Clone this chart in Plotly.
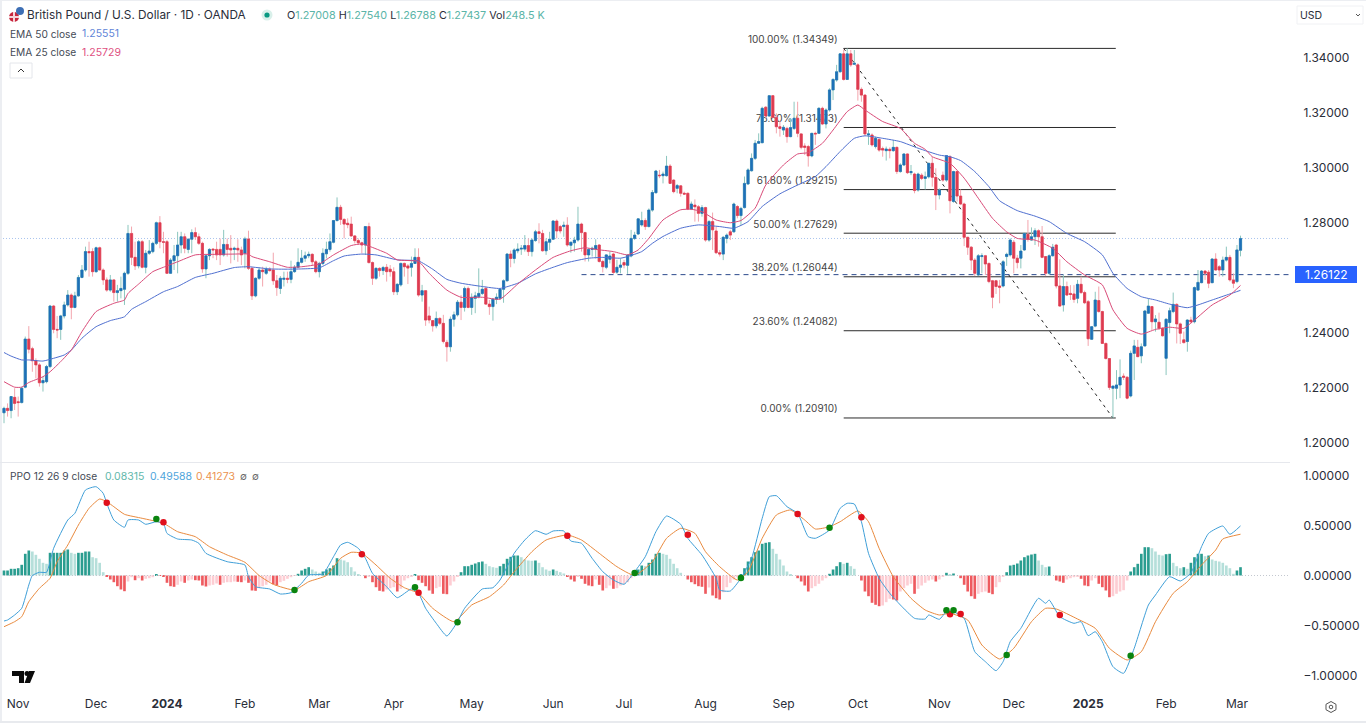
# GBP/USD daily chart with EMAs, fibonacci levels and a PPO pane
import plotly.graph_objects as go

# candles
opens=[1.2110,1.2126,1.2118,1.2166,1.2150,1.2147,1.2203,1.2378,1.2343,1.2299,
1.2284,1.2219,1.2223,1.2278,1.2498,1.2413,1.2413,1.2462,1.2502,1.2538,
1.2493,1.2535,1.2602,1.2629,1.2696,1.2696,1.2623,1.2710,1.2629,1.2593,
1.2556,1.2593,1.2547,1.2554,1.2559,1.2617,1.2762,1.2675,1.2644,1.2732,
1.2639,1.2690,1.2696,1.2726,1.2801,1.2732,1.2732,1.2617,1.2663,1.2681,
1.2720,1.2750,1.2704,1.2741,1.2765,1.2750,1.2726,1.2633,1.2681,1.2705,
1.2704,1.2704,1.2684,1.2722,1.2708,1.2704,1.2708,1.2702,1.2690,1.2742,
1.2635,1.2535,1.2599,1.2629,1.2617,1.2632,1.2629,1.2590,1.2562,1.2595,
1.2599,1.2595,1.2623,1.2639,1.2657,1.2672,1.2681,1.2686,1.2659,1.2623,
1.2653,1.2688,1.2704,1.2730,1.2809,1.2857,1.2813,1.2799,1.2796,1.2753,
1.2736,1.2728,1.2720,1.2787,1.2656,1.2599,1.2635,1.2627,1.2639,1.2632,
1.2623,1.2550,1.2575,1.2653,1.2644,1.2639,1.2653,1.2675,1.2538,1.2554,
1.2462,1.2445,1.2426,1.2453,1.2435,1.2366,1.2350,1.2450,1.2466,1.2512,
1.2493,1.2562,1.2493,1.2526,1.2532,1.2544,1.2562,1.2505,1.2496,1.2523,
1.2526,1.2559,1.2590,1.2687,1.2671,1.2699,1.2705,1.2705,1.2718,1.2696,
1.2736,1.2768,1.2762,1.2699,1.2730,1.2741,1.2807,1.2787,1.2787,1.2792,
1.2719,1.2728,1.2738,1.2796,1.2765,1.2684,1.2704,1.2705,1.2720,1.2660,
1.2639,1.2668,1.2687,1.2621,1.2639,1.2656,1.2646,1.2680,1.2744,1.2760,
1.2793,1.2809,1.2787,1.2847,1.2910,1.2974,1.2972,1.2972,1.3007,1.2956,
1.2926,1.2935,1.2908,1.2908,1.2851,1.2865,1.2859,1.2835,1.2856,1.2738,
1.2805,1.2771,1.2692,1.2687,1.2744,1.2768,1.2768,1.2860,1.2827,1.2856,
1.2942,1.2990,1.3035,1.3090,1.3092,1.3221,1.3189,1.3263,1.3184,1.3150,
1.3138,1.3144,1.3114,1.3144,1.3181,1.3124,1.3080,1.3078,1.3044,1.3126,
1.3126,1.3217,1.3160,1.3211,1.3284,1.3320,1.3350,1.3415,1.3322,1.3415,
1.3377,1.3375,1.3286,1.3265,1.3120,1.3120,1.3078,1.3104,1.3071,1.3063,
1.3068,1.3063,1.3075,1.2987,1.3011,1.3051,1.2983,1.2978,1.2920,1.2974,
1.2962,1.2968,1.3017,1.2966,1.2902,1.2974,1.2956,1.3041,1.2878,1.2987,
1.2898,1.2869,1.2748,1.2712,1.2665,1.2611,1.2678,1.2681,1.2653,1.2590,
1.2590,1.2571,1.2571,1.2678,1.2684,1.2730,1.2672,1.2672,1.2702,1.2759,
1.2738,1.2750,1.2772,1.2750,1.2678,1.2617,1.2681,1.2720,1.2571,1.2502,
1.2569,1.2544,1.2542,1.2526,1.2577,1.2547,1.2514,1.2377,1.2425,1.2518,
1.2478,1.2362,1.2307,1.2199,1.2199,1.2211,1.2243,1.2239,1.2171,1.2326,
1.2348,1.2317,1.2353,1.2472,1.2496,1.2441,1.2439,1.2417,1.2308,1.2438,
1.2478,1.2504,1.2433,1.2375,1.2369,1.2447,1.2441,1.2556,1.2583,1.2625,
1.2621,1.2583,1.2669,1.2641,1.2629,1.2665,1.2675,1.2593,1.2587,1.27008]
highs=[1.2132,1.2144,1.2169,1.2199,1.2169,1.2205,1.2387,1.2425,1.2350,1.2308,
1.2290,1.2241,1.2284,1.2502,1.2502,1.2462,1.2466,1.2514,1.2556,1.2544,
1.2550,1.2611,1.2647,1.2714,1.2732,1.2708,1.2714,1.2714,1.2635,1.2602,
1.2611,1.2595,1.2575,1.2605,1.2623,1.2793,1.2787,1.2732,1.2738,1.2738,
1.2702,1.2738,1.2732,1.2805,1.2825,1.2768,1.2738,1.2672,1.2720,1.2768,
1.2768,1.2762,1.2744,1.2777,1.2784,1.2762,1.2732,1.2684,1.2708,1.2708,
1.2732,1.2744,1.2775,1.2744,1.2756,1.2714,1.2741,1.2714,1.2750,1.2772,
1.2641,1.2602,1.2639,1.2641,1.2641,1.2639,1.2692,1.2611,1.2607,1.2623,
1.2623,1.2663,1.2647,1.2708,1.2702,1.2696,1.2696,1.2690,1.2665,1.2659,
1.2708,1.2732,1.2762,1.2811,1.2893,1.2866,1.2817,1.2817,1.2823,1.2756,
1.2744,1.2732,1.2787,1.2801,1.2660,1.2639,1.2639,1.2644,1.2651,1.2647,
1.2639,1.2581,1.2656,1.2656,1.2651,1.2678,1.2708,1.2708,1.2575,1.2556,
1.2496,1.2447,1.2478,1.2457,1.2466,1.2375,1.2460,1.2478,1.2520,1.2538,
1.2569,1.2569,1.2544,1.2550,1.2635,1.2593,1.2569,1.2520,1.2526,1.2544,
1.2562,1.2595,1.2690,1.2700,1.2708,1.2726,1.2720,1.2756,1.2744,1.2744,
1.2775,1.2799,1.2775,1.2744,1.2768,1.2811,1.2813,1.2793,1.2805,1.2821,
1.2732,1.2750,1.2859,1.2801,1.2768,1.2708,1.2714,1.2741,1.2723,1.2666,
1.2687,1.2696,1.2692,1.2666,1.2671,1.2666,1.2687,1.2775,1.2768,1.2817,
1.2841,1.2817,1.2853,1.2920,1.2993,1.2993,1.2987,1.3044,1.3014,1.2959,
1.2942,1.2938,1.2914,1.2911,1.2878,1.2886,1.2865,1.2865,1.2859,1.2811,
1.2838,1.2787,1.2702,1.2753,1.2762,1.2775,1.2874,1.2865,1.2859,1.2969,
1.2999,1.3053,1.3102,1.3126,1.3223,1.3225,1.3265,1.3265,1.3199,1.3172,
1.3156,1.3150,1.3181,1.3241,1.3241,1.3126,1.3090,1.3084,1.3128,1.3132,
1.3221,1.3223,1.3217,1.3290,1.3326,1.3375,1.3417,1.3431,1.3435,1.3429,
1.3429,1.3381,1.3293,1.3268,1.3138,1.3126,1.3114,1.3108,1.3078,1.3078,
1.3075,1.3102,1.3078,1.3017,1.3053,1.3053,1.3011,1.2983,1.2983,1.2981,
1.2987,1.3019,1.3041,1.2999,1.2926,1.2987,1.3047,1.3047,1.2990,1.2990,
1.2922,1.2874,1.2750,1.2716,1.2672,1.2687,1.2690,1.2684,1.2656,1.2593,
1.2593,1.2593,1.2665,1.2692,1.2744,1.2738,1.2684,1.2720,1.2765,1.2811,
1.2784,1.2781,1.2777,1.2789,1.2680,1.2686,1.2724,1.2724,1.2668,1.2611,
1.2587,1.2574,1.2574,1.2593,1.2605,1.2554,1.2520,1.2425,1.2550,1.2569,
1.2481,1.2365,1.2309,1.2207,1.2265,1.2304,1.2253,1.2243,1.2336,1.2375,
1.2375,1.2362,1.2484,1.2525,1.2498,1.2465,1.2474,1.2421,1.2453,1.2492,
1.2547,1.2508,1.2438,1.2405,1.2450,1.2459,1.2569,1.2629,1.2629,1.2629,
1.2629,1.2672,1.2690,1.2647,1.2678,1.2714,1.2684,1.2617,1.2720,1.27540]
lows=[1.2072,1.2096,1.2090,1.2120,1.2096,1.2144,1.2199,1.2326,1.2259,1.2235,
1.2205,1.2187,1.2217,1.2272,1.2399,1.2381,1.2375,1.2453,1.2496,1.2450,
1.2490,1.2532,1.2599,1.2623,1.2605,1.2605,1.2619,1.2629,1.2575,1.2550,
1.2550,1.2514,1.2514,1.2526,1.2502,1.2611,1.2647,1.2629,1.2635,1.2635,
1.2617,1.2684,1.2690,1.2720,1.2708,1.2690,1.2615,1.2615,1.2629,1.2617,
1.2690,1.2690,1.2690,1.2690,1.2738,1.2720,1.2619,1.2599,1.2665,1.2672,
1.2665,1.2647,1.2678,1.2678,1.2653,1.2665,1.2659,1.2647,1.2635,1.2629,
1.2520,1.2530,1.2593,1.2569,1.2611,1.2623,1.2575,1.2535,1.2542,1.2569,
1.2581,1.2581,1.2619,1.2635,1.2653,1.2659,1.2672,1.2647,1.2617,1.2602,
1.2647,1.2671,1.2696,1.2726,1.2805,1.2793,1.2744,1.2781,1.2750,1.2726,
1.2720,1.2690,1.2684,1.2653,1.2575,1.2593,1.2605,1.2611,1.2587,1.2605,
1.2538,1.2538,1.2569,1.2605,1.2578,1.2605,1.2653,1.2532,1.2514,1.2426,
1.2435,1.2405,1.2417,1.2429,1.2362,1.2296,1.2332,1.2423,1.2460,1.2447,
1.2478,1.2490,1.2466,1.2472,1.2526,1.2538,1.2502,1.2466,1.2445,1.2505,
1.2520,1.2510,1.2587,1.2639,1.2653,1.2690,1.2684,1.2696,1.2680,1.2678,
1.2732,1.2726,1.2696,1.2684,1.2702,1.2738,1.2744,1.2762,1.2750,1.2714,
1.2692,1.2696,1.2732,1.2696,1.2660,1.2660,1.2678,1.2671,1.2656,1.2620,
1.2632,1.2653,1.2615,1.2615,1.2617,1.2635,1.2615,1.2675,1.2738,1.2756,
1.2787,1.2775,1.2784,1.2841,1.2908,1.2963,1.2944,1.2969,1.2942,1.2908,
1.2908,1.2896,1.2902,1.2847,1.2847,1.2805,1.2805,1.2823,1.2732,1.2732,
1.2702,1.2687,1.2678,1.2665,1.2726,1.2738,1.2765,1.2817,1.2793,1.2853,
1.2938,1.2987,1.3029,1.3090,1.3090,1.3181,1.3187,1.3181,1.3126,1.3114,
1.3120,1.3092,1.3112,1.3138,1.3112,1.3068,1.3047,1.3005,1.3039,1.3084,
1.3124,1.3156,1.3144,1.3205,1.3247,1.3314,1.3347,1.3318,1.3320,1.3368,
1.3375,1.3245,1.3241,1.3116,1.3084,1.3078,1.3071,1.3059,1.3041,1.3027,
1.3035,1.3059,1.2978,1.2983,1.3007,1.2978,1.2974,1.2908,1.2914,1.2956,
1.2922,1.2962,1.2932,1.2847,1.2886,1.2950,1.2950,1.2835,1.2874,1.2878,
1.2865,1.2716,1.2684,1.2629,1.2607,1.2607,1.2617,1.2611,1.2581,1.2490,
1.2542,1.2508,1.2566,1.2644,1.2678,1.2617,1.2635,1.2635,1.2699,1.2732,
1.2736,1.2720,1.2714,1.2672,1.2607,1.2612,1.2678,1.2562,1.2496,1.2478,
1.2535,1.2520,1.2510,1.2508,1.2542,1.2505,1.2353,1.2375,1.2421,1.2474,
1.2360,1.2304,1.2193,1.2091,1.2159,1.2163,1.2229,1.2159,1.2166,1.2229,
1.2312,1.2290,1.2351,1.2469,1.2411,1.2405,1.2411,1.2387,1.2247,1.2399,
1.2472,1.2362,1.2360,1.2362,1.2332,1.2435,1.2435,1.2554,1.2581,1.2593,
1.2563,1.2581,1.2627,1.2605,1.2605,1.2660,1.2587,1.2563,1.2581,1.26788]
closes=[1.2126,1.2118,1.2169,1.2144,1.2147,1.2199,1.2378,1.2341,1.2299,1.2284,
1.2219,1.2227,1.2278,1.2498,1.2413,1.2411,1.2462,1.2502,1.2538,1.2493,
1.2535,1.2602,1.2629,1.2696,1.2692,1.2623,1.2710,1.2629,1.2593,1.2556,
1.2593,1.2547,1.2554,1.2562,1.2617,1.2762,1.2675,1.2644,1.2732,1.2639,
1.2690,1.2698,1.2726,1.2801,1.2732,1.2730,1.2617,1.2665,1.2681,1.2720,
1.2750,1.2708,1.2741,1.2765,1.2750,1.2726,1.2633,1.2681,1.2704,1.2702,
1.2684,1.2684,1.2722,1.2704,1.2702,1.2708,1.2702,1.2684,1.2742,1.2635,
1.2535,1.2599,1.2629,1.2623,1.2632,1.2627,1.2590,1.2565,1.2599,1.2599,
1.2595,1.2623,1.2639,1.2657,1.2672,1.2681,1.2686,1.2659,1.2623,1.2653,
1.2690,1.2704,1.2732,1.2809,1.2857,1.2813,1.2796,1.2794,1.2753,1.2736,
1.2728,1.2720,1.2787,1.2656,1.2599,1.2635,1.2627,1.2638,1.2623,1.2623,
1.2550,1.2577,1.2653,1.2641,1.2636,1.2653,1.2675,1.2538,1.2554,1.2447,
1.2447,1.2426,1.2453,1.2435,1.2369,1.2350,1.2450,1.2466,1.2512,1.2493,
1.2562,1.2493,1.2530,1.2535,1.2544,1.2559,1.2505,1.2496,1.2523,1.2530,
1.2559,1.2590,1.2687,1.2671,1.2702,1.2705,1.2708,1.2718,1.2696,1.2738,
1.2768,1.2762,1.2699,1.2732,1.2741,1.2807,1.2771,1.2771,1.2792,1.2720,
1.2730,1.2738,1.2796,1.2765,1.2684,1.2704,1.2708,1.2718,1.2660,1.2641,
1.2684,1.2680,1.2620,1.2639,1.2647,1.2647,1.2683,1.2744,1.2756,1.2815,
1.2809,1.2787,1.2847,1.2911,1.2989,1.2972,1.2978,1.3007,1.2944,1.2914,
1.2936,1.2908,1.2905,1.2851,1.2869,1.2859,1.2835,1.2856,1.2738,1.2805,
1.2775,1.2692,1.2687,1.2748,1.2756,1.2756,1.2869,1.2827,1.2853,1.2944,
1.2993,1.3035,1.3090,1.3096,1.3217,1.3189,1.3263,1.3184,1.3150,1.3144,
1.3148,1.3114,1.3147,1.3181,1.3126,1.3075,1.3075,1.3044,1.3126,1.3124,
1.3217,1.3160,1.3211,1.3284,1.3322,1.3350,1.3415,1.3322,1.3415,1.3375,
1.3381,1.3286,1.3265,1.3124,1.3124,1.3084,1.3108,1.3065,1.3065,1.3069,
1.3063,1.3075,1.2987,1.3011,1.3051,1.2983,1.2987,1.2918,1.2978,1.2962,
1.2968,1.3017,1.2966,1.2902,1.2920,1.2956,1.3045,1.2881,1.2987,1.2898,
1.2869,1.2748,1.2712,1.2665,1.2617,1.2681,1.2681,1.2651,1.2587,1.2530,
1.2569,1.2566,1.2659,1.2686,1.2738,1.2672,1.2656,1.2698,1.2762,1.2741,
1.2750,1.2772,1.2750,1.2675,1.2617,1.2681,1.2712,1.2571,1.2498,1.2569,
1.2538,1.2540,1.2522,1.2577,1.2547,1.2510,1.2379,1.2423,1.2520,1.2478,
1.2362,1.2307,1.2202,1.2207,1.2211,1.2239,1.2239,1.2163,1.2326,1.2353,
1.2314,1.2350,1.2480,1.2498,1.2441,1.2451,1.2417,1.2390,1.2450,1.2481,
1.2504,1.2433,1.2399,1.2365,1.2447,1.2441,1.2565,1.2584,1.2625,1.2617,
1.2581,1.2669,1.2629,1.2629,1.2665,1.2675,1.2593,1.2581,1.2702,1.27437]

# EMAs, read at the turning points of the lines
ema50_x=[0,2,5,7,11,14,17,19,22,26,30,34,36,40,45,49,54,59,65,69,75,80,84,89,93,96,101,105,111,117,121,125,129,135,140,145,150,155,159,165,169,174,176,180,183,186,191,196,202,206,210,214,219,223,229,232,236,240,243,248,253,258,264,267,270,274,278,281,286,291,295,300,305,310,313,317,321,325,329,334,337,341,346,349]
ema50=[1.2329,1.2316,1.2302,1.2302,1.2298,1.2308,1.2320,1.2338,1.2381,1.2423,1.2445,1.2459,1.2486,1.2514,1.2550,1.2569,1.2602,1.2617,1.2638,1.2641,1.2633,1.2632,1.2633,1.2637,1.2663,1.2680,1.2687,1.2684,1.2666,1.2662,1.2632,1.2595,1.2581,1.2569,1.2562,1.2581,1.2615,1.2639,1.2656,1.2672,1.2675,1.2672,1.2678,1.2696,1.2726,1.2751,1.2781,1.2793,1.2787,1.2781,1.2805,1.2860,1.2906,1.2932,1.2969,1.3005,1.3060,1.3108,1.3117,1.3108,1.3096,1.3072,1.3047,1.3041,1.3027,1.2987,1.2932,1.2881,1.2845,1.2825,1.2805,1.2762,1.2732,1.2684,1.2617,1.2562,1.2532,1.2520,1.2505,1.2492,1.2502,1.2520,1.2542,1.25551]
ema25_x=[0,3,5,7,11,13,16,19,22,26,31,34,35,38,42,45,49,54,60,65,69,70,75,80,84,89,93,98,101,103,108,111,117,120,125,129,135,140,145,150,155,160,164,167,172,176,179,182,186,191,194,197,201,205,208,212,215,220,224,227,231,234,238,241,243,248,253,257,260,262,267,271,275,279,283,286,291,296,300,305,310,313,317,321,325,329,333,336,341,346,349]
ema25=[1.2223,1.2203,1.2203,1.2220,1.2241,1.2259,1.2296,1.2338,1.2405,1.2478,1.2508,1.2520,1.2544,1.2578,1.2623,1.2639,1.2659,1.2684,1.2686,1.2687,1.2687,1.2678,1.2659,1.2639,1.2641,1.2651,1.2684,1.2718,1.2724,1.2716,1.2690,1.2666,1.2660,1.2617,1.2556,1.2530,1.2530,1.2523,1.2578,1.2629,1.2675,1.2699,1.2710,1.2704,1.2696,1.2684,1.2702,1.2744,1.2811,1.2848,1.2850,1.2841,1.2811,1.2801,1.2809,1.2854,1.2938,1.3011,1.3051,1.3056,1.3090,1.3138,1.3205,1.3229,1.3211,1.3169,1.3144,1.3090,1.3068,1.3041,1.3017,1.2963,1.2890,1.2817,1.2768,1.2744,1.2738,1.2708,1.2659,1.2611,1.2575,1.2484,1.2417,1.2396,1.2413,1.2421,1.2417,1.2447,1.2502,1.2538,1.25729]

# fibonacci retracement
fib_values=[1.34349,1.31473,1.29215,1.27629,1.26044,1.24082,1.20910]
fib_labels=["100.00% (1.34349)","78.60% (1.31473)","61.80% (1.29215)","50.00% (1.27629)","38.20% (1.26044)","23.60% (1.24082)","0.00% (1.20910)"]
fib_start=237
fib_end=313.8
low_x=313
last_price=1.27437
level_price=1.26122
level_start=163

# PPO pane
ppo_x=[0,1,3,5,7,8,10,12,14,18,20,23,26,28,29,31,34,35,38,40,43,45,46,49,53,55,57,63,68,69,71,75,78,81,84,86,90,93,95,97,100,102,104,108,111,115,117,119,122,125,128,130,135,138,140,144,147,150,153,155,158,160,163,166,169,172,175,178,181,184,187,191,193,197,201,202,205,208,211,214,216,218,221,224,227,229,233,236,238,240,242,244,247,250,253,257,260,261,264,266,268,271,274,277,280,282,284,287,292,294,295,298,302,304,306,308,310,313,316,319,323,325,329,332,335,338,340,344,346,349]
ppo=[-0.455,-0.445,-0.395,-0.328,-0.095,0.0,0.032,0.032,0.272,0.555,0.622,0.855,0.888,0.822,0.722,0.555,0.482,0.555,0.555,0.512,0.538,0.522,0.422,0.365,0.355,0.322,0.222,0.138,0.105,-0.012,-0.112,-0.135,-0.185,-0.172,-0.078,0.005,0.015,0.188,0.305,0.332,0.272,0.172,0.022,-0.112,-0.222,-0.135,-0.178,-0.328,-0.478,-0.605,-0.462,-0.328,-0.135,-0.122,-0.045,0.222,0.355,0.448,0.412,0.445,0.445,0.345,0.322,0.172,0.038,-0.045,-0.088,0.038,0.188,0.438,0.595,0.512,0.372,0.205,-0.028,-0.145,-0.155,-0.028,0.172,0.572,0.788,0.798,0.688,0.622,0.388,0.372,0.455,0.672,0.722,0.715,0.538,0.222,-0.028,-0.178,-0.295,-0.428,-0.435,-0.395,-0.438,-0.362,-0.362,-0.428,-0.762,-0.862,-0.952,-0.862,-0.662,-0.528,-0.228,-0.278,-0.245,-0.412,-0.478,-0.462,-0.602,-0.562,-0.662,-0.912,-0.978,-0.728,-0.295,-0.195,-0.012,-0.055,0.025,0.288,0.422,0.495,0.412,0.49588]
signal_x=[0,3,5,7,10,13,15,18,21,24,27,29,31,34,39,45,49,54,58,63,68,72,76,82,86,91,95,98,101,105,109,113,117,121,127,132,137,141,144,149,153,159,163,168,173,178,183,187,191,195,198,202,207,210,214,218,222,226,229,233,236,241,244,247,251,256,260,264,267,272,276,281,285,290,294,297,303,308,312,317,321,325,330,334,338,342,344,349]
signal=[-0.512,-0.462,-0.412,-0.262,-0.128,-0.028,0.138,0.305,0.505,0.672,0.765,0.738,0.688,0.612,0.572,0.522,0.438,0.388,0.288,0.205,0.132,0.0,-0.088,-0.145,-0.062,0.0,0.172,0.232,0.222,0.105,-0.028,-0.122,-0.178,-0.328,-0.462,-0.295,-0.212,-0.095,0.038,0.238,0.355,0.405,0.355,0.222,0.088,0.0,0.138,0.372,0.472,0.422,0.238,0.088,-0.045,0.038,0.372,0.605,0.655,0.555,0.465,0.488,0.538,0.645,0.538,0.272,-0.012,-0.228,-0.345,-0.395,-0.378,-0.445,-0.695,-0.835,-0.728,-0.462,-0.328,-0.335,-0.435,-0.528,-0.728,-0.845,-0.762,-0.462,-0.178,-0.062,0.105,0.255,0.365,0.41273]
hist=[.05,.05,.067,.067,.073,.107,.217,.25,.24,.207,
.167,.127,.117,.227,.227,.227,.227,.25,.26,.227,
.217,.227,.227,.24,.24,.183,.173,.127,.033,-.01,
-.04,-.067,-.107,-.14,-.157,-.06,-.017,-.047,-.027,-.05,
-.033,-.027,-.017,.01,-.003,-.01,-.073,-.107,-.113,-.093,
-.06,-.073,-.05,-.04,-.047,-.05,-.1,-.11,-.1,-.093,
-.08,-.093,-.073,-.067,-.067,-.06,-.063,-.067,-.05,-.073,
-.15,-.153,-.127,-.107,-.093,-.06,-.087,-.1,-.067,-.053,
-.033,-.017,-.003,.017,.05,.067,.083,.06,.04,.027,
.04,.06,.073,.1,.173,.16,.15,.133,.083,.04,
.01,0,-.027,-.01,-.067,-.117,-.153,-.16,-.14,-.127,
-.117,-.16,-.133,-.05,-.027,-.007,.01,-.047,-.073,-.107,
-.15,-.183,-.127,-.113,-.183,-.187,-.1,-.06,-.007,.033,
.093,.093,.107,.12,.133,.14,.117,.093,.083,.077,
.093,.117,.167,.187,.2,.2,.183,.16,.15,.147,
.15,.127,.083,.06,.047,.06,.047,.033,.02,-.007,
-.04,-.06,-.01,-.033,-.083,-.1,-.107,-.04,-.093,-.15,
-.127,-.1,-.133,-.127,-.1,-.083,-.067,-.027,.017,.06,
.1,.093,.127,.16,.217,.227,.217,.207,.167,.117,
.073,.027,0,-.04,-.067,-.087,-.107,-.113,-.183,-.12,
-.2,-.227,-.24,-.167,-.117,-.073,-.04,-.017,.007,.073,
.14,.183,.233,.25,.317,.327,.333,.267,.217,.16,
.1,.04,.01,0,-.027,-.06,-.1,-.16,-.127,-.107,
-.083,-.05,-.027,.017,.06,.093,.133,.117,.127,.093,
.067,0,-.05,-.16,-.207,-.273,-.293,-.307,-.3,-.267,
-.233,-.24,-.25,-.16,-.127,-.1,-.083,-.183,-.133,-.1,
-.073,-.05,-.04,-.06,-.04,-.007,.027,.01,.02,0,
-.027,-.093,-.16,-.207,-.233,-.183,-.167,-.16,-.173,-.187,
-.117,-.067,-.01,.033,.1,.107,.12,.15,.183,.2,
.21,.217,.15,.107,.083,.09,0,-.05,-.06,-.073,
-.04,-.027,-.017,-.007,-.033,-.1,-.107,-.05,-.027,-.083,
-.117,-.15,-.217,-.207,-.183,-.16,-.147,-.05,.04,.083,
.117,.217,.283,.283,.273,.24,.207,.2,.213,.217,
.127,.093,.073,.083,.067,.127,.183,.217,.217,.193,
.2,.16,.147,.14,.127,.1,.073,.017,.05,.08315]
red_x=[29,45,101,117,159,193,224,242,267,270,298]
red_y=[0.728,0.532,0.212,-0.172,0.398,0.408,0.615,0.582,-0.388,-0.385,-0.395]
green_x=[43,82,116,128,178,208,233,266,268,283,318]
green_y=[0.565,-0.145,-0.118,-0.468,0.025,-0.025,0.478,-0.348,-0.348,-0.795,-0.802]

# x axis labels
tick_pos=[4,26,46,68,89,110,132,155,175,198,220,241,264,285,306,328,348]
tick_text=["Nov","Dec","<b>2024</b>","Feb","Mar","Apr","May","Jun","Jul","Aug","Sep","Oct","Nov","Dec","<b>2025</b>","Feb","Mar"]
# 1.26 sits behind the price tag in the picture, so it is not listed
price_ticks=[1.20,1.22,1.24,1.28,1.30,1.32,1.34]
ppo_ticks=[-1,-0.5,0,0.5,1]

# page pixels to paper coordinates
W=1366
H=723
def px(x):
    return x/W
def py(y):
    return 1-y/H

xs=list(range(len(closes)))
x_range=[-1.13,362.97]
price_range=[1.19309,1.36109]
font="Inter, Roboto, 'Liberation Sans', sans-serif"
smooth=dict(shape="spline",smoothing=0.5,width=1)
label_lift=0.0011

# colour of each histogram bar: strong while it moves away from zero
hist_colors=[]
for i,v in enumerate(hist):
    prev=hist[i-1] if i>0 else 0
    if v>=0:
        hist_colors.append("#2a9d90" if v>=prev else "#b5dfda")
    else:
        hist_colors.append("#ee5a5f" if v<prev else "#fdcdd3")

fig=go.Figure()

# fib drawing goes on y, candles on y3 above it
for lv,txt in zip(fib_values,fib_labels):
    fig.add_trace(go.Scatter(x=[fib_start,fib_end],y=[lv,lv],mode="lines",line=dict(color="#2b2b2b",width=1),hoverinfo="skip"))
    fig.add_trace(go.Scatter(x=[235.3],y=[lv+label_lift],mode="text",text=[txt],textposition="top left",textfont=dict(family=font,size=10,color="#444444"),hoverinfo="skip"))
fig.add_trace(go.Scatter(x=[fib_start,low_x],y=[fib_values[0],fib_values[-1]],mode="lines",line=dict(color="#222222",width=1,dash="3px,4px"),hoverinfo="skip"))
fig.add_trace(go.Scatter(x=x_range,y=[last_price,last_price],mode="lines",line=dict(color="#a9c4ee",width=1,dash="1px,2px"),hoverinfo="skip"))
fig.add_trace(go.Scatter(x=[level_start,x_range[1]],y=[level_price,level_price],mode="lines",line=dict(color="#2c4a8c",width=1,dash="5px,4px"),hoverinfo="skip"))

# wicks, pale
fig.add_trace(go.Candlestick(x=xs,open=opens,high=highs,low=lows,close=closes,yaxis="y3",whiskerwidth=0,
    increasing=dict(line=dict(color="#8cc6be",width=1),fillcolor="#8cc6be"),
    decreasing=dict(line=dict(color="#f3a5ad",width=1),fillcolor="#f3a5ad"),hoverinfo="skip"))
# bodies, same candles without the wick
fig.add_trace(go.Candlestick(x=xs,open=opens,close=closes,
    high=[max(a,b) for a,b in zip(opens,closes)],low=[min(a,b) for a,b in zip(opens,closes)],yaxis="y3",whiskerwidth=0,
    increasing=dict(line=dict(color="#1e70b8",width=0.6),fillcolor="#1e70b8"),
    decreasing=dict(line=dict(color="#de3b50",width=0.6),fillcolor="#de3b50"),hoverinfo="skip"))
fig.add_trace(go.Scatter(x=ema50_x,y=ema50,mode="lines",yaxis="y3",line=dict(color="#4f6fd0",**smooth),hoverinfo="skip"))
fig.add_trace(go.Scatter(x=ema25_x,y=ema25,mode="lines",yaxis="y3",line=dict(color="#d94a78",**smooth),hoverinfo="skip"))

# PPO pane
fig.add_trace(go.Bar(x=xs,y=hist,xaxis="x2",yaxis="y2",marker=dict(color=hist_colors,line=dict(width=0)),hoverinfo="skip"))
fig.add_trace(go.Scatter(x=x_range,y=[0,0],xaxis="x2",yaxis="y2",mode="lines",line=dict(color="#c4c8d0",width=1,dash="1px,2px"),hoverinfo="skip"))
fig.add_trace(go.Scatter(x=signal_x,y=signal,xaxis="x2",yaxis="y2",mode="lines",line=dict(color="#e98a3e",**smooth),hoverinfo="skip"))
fig.add_trace(go.Scatter(x=ppo_x,y=ppo,xaxis="x2",yaxis="y2",mode="lines",line=dict(color="#3f9fd8",**smooth),hoverinfo="skip"))
fig.add_trace(go.Scatter(x=red_x,y=red_y,xaxis="x2",yaxis="y2",mode="markers",marker=dict(color="#e0101c",size=6.5),hoverinfo="skip"))
fig.add_trace(go.Scatter(x=green_x,y=green_y,xaxis="x2",yaxis="y2",mode="markers",marker=dict(color="#0a840f",size=6.5),hoverinfo="skip"))

teal="#5bb5a8"
ohlc_text=("O<span style='color:%s'>1.27008</span> H<span style='color:%s'>1.27540</span> "
    "L<span style='color:%s'>1.26788</span> C<span style='color:%s'>1.27437</span> Vol<span style='color:%s'>248.5 K</span>")%(teal,teal,teal,teal,teal)
labels=[
    (27,15,"British Pound / U.S. Dollar · 1D · OANDA",11.8,"#2a2e39"),
    (287,15,ohlc_text,10.8,"#2a2e39"),
    (10,33.5,"EMA 50 close",10.2,"#444a55"),
    (82,33.5,"1.25551",10.5,"#5f85d8"),
    (10,52.5,"EMA 25 close",10.2,"#444a55"),
    (82,52.5,"1.25729",10.5,"#e0507f"),
    (10,476,"PPO 12 26 9 close",10.2,"#444a55"),
    (105,476,"0.08315",10.5,"#62b8ab"),
    (150,476,"0.49588",10.5,"#4ea5dc"),
    (196,476,"0.41273",10.5,"#eb9350"),
    (240,476,"∅",10,"#666666"),
    (252,476,"∅",10,"#666666"),
    (1300,15,"USD",10.5,"#2a2e39"),
]
# annotations carry 2px of padding on their left edge
annotations=[dict(xref="paper",yref="paper",x=px(a-2),y=py(b),text=t,showarrow=False,xanchor="left",yanchor="middle",
    font=dict(family=font,size=s,color=c)) for a,b,t,s,c in labels]
annotations.append(dict(xref="paper",yref="paper",x=px(1326),y=py(274.5),text="1.26122",showarrow=False,xanchor="center",yanchor="middle",
    font=dict(family=font,size=12,color="#ffffff")))

def rect(x0,y0,x1,y1,fill,line=None):
    return dict(type="rect",xref="paper",yref="paper",x0=px(x0),x1=px(x1),y0=py(y0),y1=py(y1),fillcolor=fill,
        line=dict(color=line or fill,width=1 if line else 0),layer="above")
def poly(points,fill=None,line=None):
    d="M"+" L".join("%f,%f"%(px(a),py(b)) for a,b in points)
    if fill:
        d+=" Z"
    return dict(type="path",xref="paper",yref="paper",path=d,fillcolor=fill or "rgba(0,0,0,0)",
        line=dict(color=line or fill,width=1 if line else 0),layer="above")
def dot(x,y,r,fill,line=None):
    return dict(type="circle",xref="paper",yref="paper",x0=px(x-r),x1=px(x+r),y0=py(y-r),y1=py(y+r),fillcolor=fill,
        line=dict(color=line or fill,width=1 if line else 0),layer="above")

shapes=[
    rect(0,0,W,1,"#eceef2"),
    rect(0,0,2,H,"#eceef2"),
    rect(0,721,W,H,"#e8eaee"),
    rect(0,462,1290,463,"#e6e8ed"),
    # currency button and price tag
    rect(1297,6,1363,24,"#ffffff","#f0f1f4"),
    poly([(1356,14),(1358,16),(1360,14)],line="#555555"),
    rect(1295,266,1357,283,"#2962ff"),
    # collapse button
    rect(10,63,32,78,"#ffffff","#e4e6eb"),
    poly([(18,72),(21,69),(24,72)],line="#333333"),
    # market status dot
    dot(267,15,5.5,"#d9f0ea"),
    dot(267,15,2.6,"#089981"),
    # pair flags
    dot(14,17,5,"#c8273e"),
    rect(9,16,19,18,"#f5d5da"),
    rect(13,12,15,22,"#f5d5da"),
    dot(20,11,4,"#3d6fb5"),
    # logo
    poly([(12,671),(24,671),(24,683),(19,683),(19,676),(12,676)],fill="#0b0b0b"),
    dot(27,673.5,2.5,"#0b0b0b"),
    poly([(29,671),(35,671),(30,683),(24.5,683)],fill="#0b0b0b"),
    # settings icon
    poly([(1331,701.5),(1336,704.3),(1336,709.7),(1331,712.5),(1326,709.7),(1326,704.3)],fill="#ffffff",line="#555555"),
    dot(1331,707,1.8,"#ffffff","#555555"),
]

fig.update_layout(
    width=W,height=H,margin=dict(l=0,r=0,t=0,b=0),showlegend=False,
    paper_bgcolor="white",plot_bgcolor="white",bargap=0.25,boxgap=0.12,
    font=dict(family=font,size=13,color="#2a2e39"),
    annotations=annotations,shapes=shapes,
    xaxis=dict(domain=[0,1290/W],range=x_range,anchor="y",showticklabels=False,showgrid=False,zeroline=False,rangeslider=dict(visible=False)),
    xaxis2=dict(domain=[0,1290/W],range=x_range,anchor="y2",tickmode="array",tickvals=tick_pos,ticktext=tick_text,showgrid=False,zeroline=False,
        ticks="",tickfont=dict(size=12,color="#2a2e39"),rangeslider=dict(visible=False)),
    yaxis=dict(domain=[(H-462)/H,1],range=price_range,anchor="x",side="right",showgrid=False,zeroline=False,
        tickmode="array",tickvals=price_ticks,tickformat=".5f",tickfont=dict(size=12,color="#2a2e39"),ticks="outside",ticklen=10,tickcolor="rgba(0,0,0,0)"),
    yaxis3=dict(overlaying="y",range=price_range,visible=False,anchor="x"),
    yaxis2=dict(domain=[(H-695)/H,(H-462)/H],range=[-1.195,1.135],anchor="x2",side="right",showgrid=False,zeroline=False,
        tickmode="array",tickvals=ppo_ticks,tickformat=".5f",tickfont=dict(size=12,color="#2a2e39"),ticks="outside",ticklen=10,tickcolor="rgba(0,0,0,0)"),
)

fig.write_html("out.html",config=dict(displayModeBar=False),post_script="document.body.style.margin='0';document.body.style.overflow='hidden';")
